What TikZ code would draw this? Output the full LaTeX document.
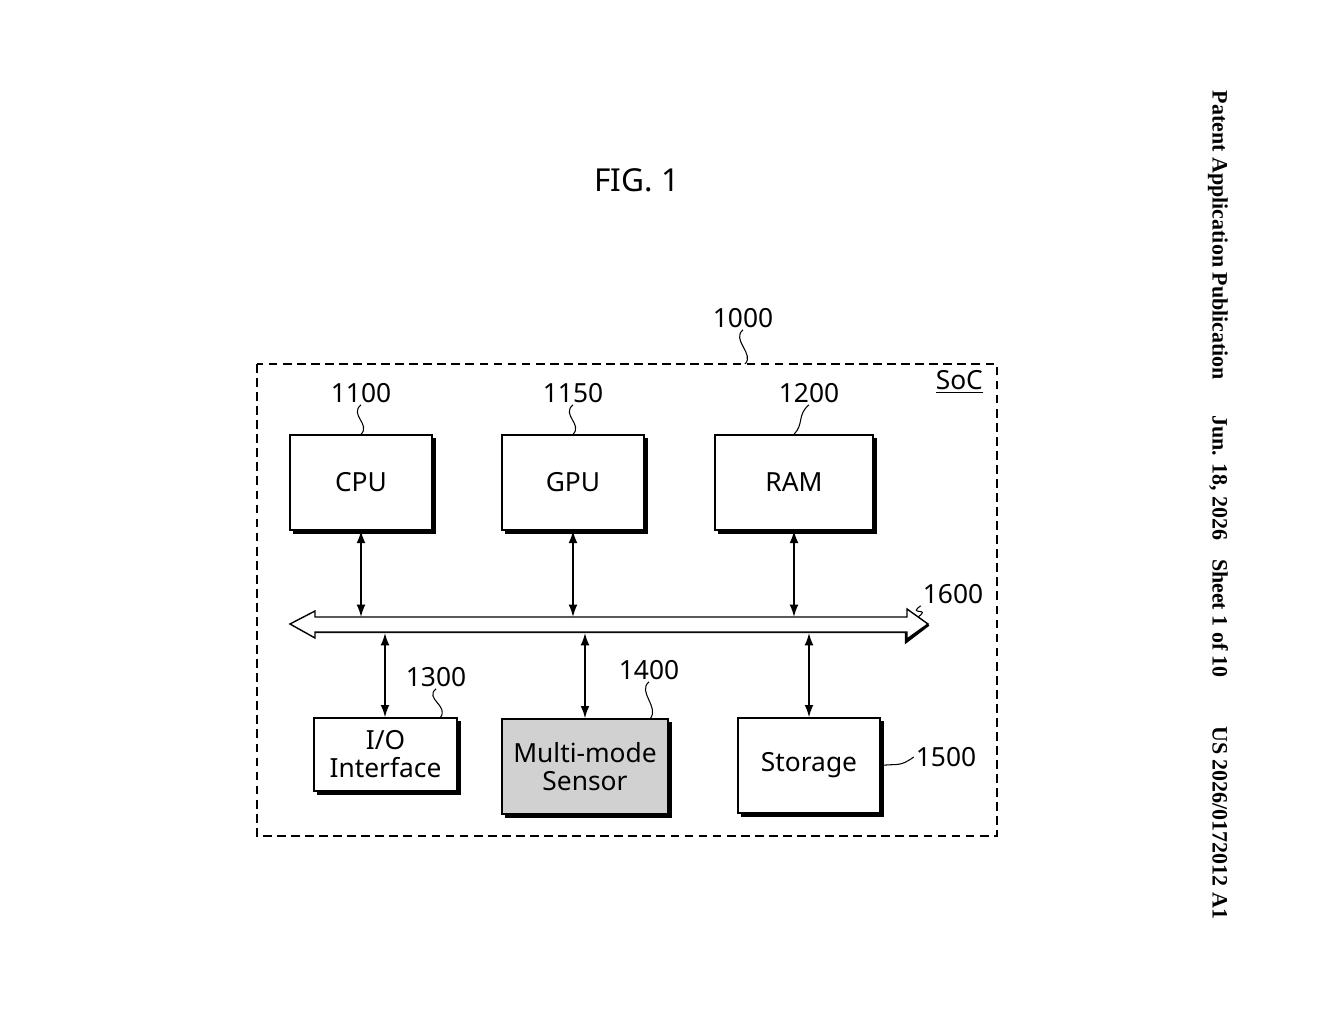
\documentclass[tikz,border=0pt]{standalone}
\usetikzlibrary{arrows.meta}
\usepackage{fontspec}
\setmainfont{Noto Sans}
\newfontfamily\serifb{Liberation Serif}
\begin{document}
\begin{tikzpicture}[x=0.02cm,y=-0.02cm,
  blk/.style={draw,line width=0.8pt,inner sep=0,align=center,font=\fontsize{15}{18}\selectfont},
  shd/.style={line width=2.2pt},
  lbl/.style={font=\fontsize{15}{18}\selectfont,inner sep=1pt},
  arr/.style={line width=0.9pt,{Latex[length=7pt,width=5pt]}-{Latex[length=7pt,width=5pt]}},
  sq/.style={line width=0.6pt}]
\useasboundingbox (0,0) rectangle (1320,1024);
\node[font=\fontsize{18}{20}\selectfont] (fig) at (637,180) {FIG. 1};
\node[rotate=-90,font=\serifb\bfseries\fontsize{12.5}{14}\selectfont] (hdr) at (1218,505) {Patent Application Publication\hspace{1.6em}Jun. 18, 2026\hspace{0.6em} Sheet 1 of 10\hspace{2.2em}US 2026/0172012 A1};
% SoC
\draw[dashed,line width=0.7pt,dash pattern=on 5pt off 3pt] (257,364) rectangle (997,836);
\coordinate (socTop) at (745,364);
\node[lbl,anchor=north east] (soc) at (985,368) {\underline{SoC}};
\node[lbl] (l1000) at (743,318) {1000};
% boxes
\newcommand{\bx}[7]{%
  \pgfmathsetmacro{\bw}{(#4-#2)*0.02}%
  \pgfmathsetmacro{\bh}{(#5-#3)*0.02}%
  \pgfmathsetmacro{\cx}{(#2+#4)/2}%
  \pgfmathsetmacro{\cy}{(#3+#5)/2}%
  \draw[shd] (#2+3,#5+2) -- (#4+2,#5+2) -- (#4+2,#3+3);
  \node[blk,minimum width=\bw cm,minimum height=\bh cm,fill=#7] (#1) at (\cx,\cy) {#6};}
\bx{cpu}{290}{435}{432}{530}{CPU}{white}
\bx{gpu}{502}{435}{644}{530}{GPU}{white}
\bx{ram}{715}{435}{873}{530}{RAM}{white}
\bx{io}{314}{718}{457}{791}{I/O\\[-2pt]Interface}{white}
\bx{sen}{502}{719}{668}{814}{Multi-mode\\[-2pt]Sensor}{black!18}
\bx{sto}{738}{718}{880}{813}{Storage}{white}
% bus
\draw[line width=2.5pt] (315,631) -- (907,631) -- (907,640) -- (928,624);
\draw[line width=0.8pt,fill=white] (290,624) -- (315,611) -- (315,617) -- (907,617) -- (907,609) -- (928,624) -- (907,639) -- (907,632) -- (315,632) -- (315,638) -- cycle;
\coordinate (busR) at (918,617);
\foreach \n/\x in {cpu/361,gpu/573,ram/794}{\coordinate (b\n) at (\x,617); \draw[arr] (\n.south -| b\n) -- (b\n);}
\foreach \n/\x in {io/385,sen/585,sto/809}{\coordinate (b\n) at (\x,633); \draw[arr] (b\n) -- (\n.north -| b\n);}
% labels
\node[lbl] (l1100) at (361,393) {1100};
\node[lbl] (l1150) at (573,393) {1150};
\node[lbl] (l1200) at (809,393) {1200};
\node[lbl] (l1300) at (436,677) {1300};
\node[lbl] (l1400) at (649,670) {1400};
\node[lbl] (l1500) at (946,757) {1500};
\node[lbl] (l1600) at (953,594) {1600};
\coordinate (ioT) at (440,718);
\coordinate (senT) at (650,719);
\draw[sq] (l1000.south) .. controls +(-12,10) and +(10,-10) .. (socTop);
\draw[sq] (l1100.south) .. controls +(-12,10) and +(10,-10) .. (cpu.north);
\draw[sq] (l1150.south) .. controls +(-12,10) and +(10,-10) .. (gpu.north);
\draw[sq] (l1200.south) .. controls +(-12,10) and +(10,-10) .. (ram.north);
\draw[sq] (l1300.south) .. controls +(-12,10) and +(10,-12) .. (ioT);
\draw[sq] (l1400.south) .. controls +(-12,10) and +(10,-12) .. (senT);
\draw[sq] (sto.east) .. controls +(18,-2) and +(-14,10) .. (l1500.west);
\draw[sq] (busR) .. controls +(14,-10) and +(-14,10) .. (l1600.south west);
\end{tikzpicture}
\end{document}
